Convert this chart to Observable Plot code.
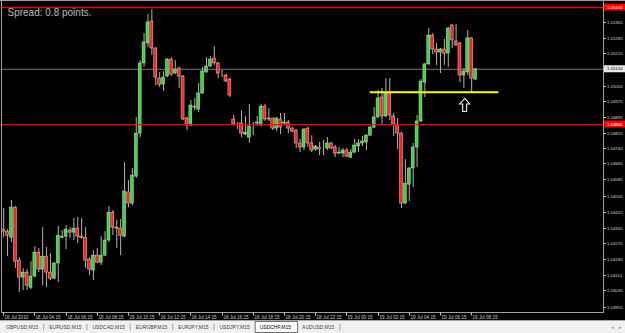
<!DOCTYPE html>
<html>
<head>
<meta charset="utf-8">
<script src="https://cdn.jsdelivr.net/npm/d3@7"></script>
<script src="https://cdn.jsdelivr.net/npm/@observablehq/plot@0.6"></script>
<style>
  html, body { margin:0; padding:0; background:#000; width:625px; height:333px; overflow:hidden; }
  #chart svg, #tabs svg { display:block; }
</style>
</head>
<body>
<div id="chart"></div>
<div id="tabs"></div>
<script>
// ---- Data (USDCHF, M15) ----
const open = [
1.04339,1.04329,1.04299,1.04448,1.04185,1.04101,1.04126,1.04051,1.04106,1.04225,
1.04141,1.04205,1.04126,1.04096,1.04171,1.04299,1.04304,1.04334,1.04324,1.04344,
1.04304,1.04299,1.04190,1.04136,1.04210,1.04175,1.04210,1.04285,1.04423,1.04349,
1.04344,1.04304,1.04523,1.04468,1.04602,1.04815,1.05163,1.05262,1.05371,1.05237,
1.05088,1.05058,1.05098,1.05182,1.05113,1.05138,1.05098,1.04890,1.04855,1.04949,
1.04934,1.05014,1.05118,1.05148,1.05187,1.05163,1.05113,1.05103,1.05083,1.04885,
1.04865,1.04865,1.04810,1.04795,1.04865,1.04865,1.04855,1.04949,1.04890,1.04890,
1.04840,1.04885,1.04865,1.04870,1.04840,1.04830,1.04766,1.04746,1.04840,1.04766,
1.04736,1.04746,1.04741,1.04741,1.04766,1.04746,1.04716,1.04716,1.04731,1.04696,
1.04721,1.04751,1.04766,1.04771,1.04805,1.04845,1.04895,1.04994,1.04900,1.05014,
1.04900,1.04860,1.04815,1.04468,1.04562,1.04642,1.04746,1.04875,1.05068,1.05158,
1.05301,1.05232,1.05217,1.05232,1.05212,1.05351,1.05272,1.05262,1.05103,1.05118,
1.05287,1.05083];
const high = [
1.04443,1.04339,1.04483,1.04453,1.04200,1.04146,1.04141,1.04180,1.04255,1.04245,
1.04349,1.04250,1.04220,1.04175,1.04354,1.04334,1.04359,1.04349,1.04394,1.04399,
1.04394,1.04349,1.04200,1.04235,1.04245,1.04304,1.04329,1.04453,1.04433,1.04384,
1.04389,1.04671,1.04582,1.04642,1.04895,1.05177,1.05311,1.05405,1.05430,1.05242,
1.05118,1.05123,1.05187,1.05192,1.05177,1.05143,1.05103,1.04895,1.04979,1.04989,
1.05063,1.05143,1.05192,1.05197,1.05247,1.05167,1.05128,1.05108,1.05088,1.04905,
1.04870,1.04929,1.04900,1.04959,1.04870,1.04900,1.04959,1.04959,1.04939,1.04890,
1.04895,1.04915,1.04915,1.04880,1.04845,1.04835,1.04786,1.04840,1.04845,1.04805,
1.04756,1.04771,1.04781,1.04795,1.04771,1.04756,1.04746,1.04741,1.04741,1.04736,
1.04786,1.04786,1.04800,1.04810,1.04850,1.04944,1.05029,1.05039,1.05088,1.05088,
1.04915,1.04890,1.04820,1.04686,1.04647,1.04766,1.04905,1.05083,1.05163,1.05336,
1.05311,1.05262,1.05237,1.05282,1.05341,1.05356,1.05356,1.05267,1.05138,1.05326,
1.05291,1.05138];
const low = [
1.04299,1.04205,1.04275,1.04146,1.04027,1.04037,1.04037,1.04042,1.04101,1.04126,
1.04061,1.04051,1.04086,1.04091,1.04076,1.04295,1.04240,1.04295,1.04285,1.04270,
1.04290,1.04146,1.04111,1.04086,1.04171,1.04161,1.04205,1.04275,1.04309,1.04245,
1.04210,1.04299,1.04448,1.04458,1.04592,1.04795,1.05143,1.05242,1.05202,1.05053,
1.05043,1.05024,1.05093,1.05098,1.05108,1.05039,1.04880,1.04830,1.04850,1.04929,
1.04919,1.05009,1.05113,1.05143,1.05153,1.05088,1.05093,1.05068,1.04994,1.04855,
1.04835,1.04795,1.04805,1.04766,1.04805,1.04850,1.04850,1.04875,1.04875,1.04830,
1.04825,1.04810,1.04855,1.04815,1.04820,1.04741,1.04721,1.04731,1.04746,1.04721,
1.04726,1.04706,1.04706,1.04731,1.04736,1.04696,1.04711,1.04696,1.04696,1.04691,
1.04716,1.04721,1.04751,1.04731,1.04800,1.04840,1.04890,1.04855,1.04895,1.04880,
1.04800,1.04736,1.04443,1.04463,1.04478,1.04547,1.04647,1.04870,1.04994,1.05153,
1.05207,1.05153,1.05113,1.05153,1.05143,1.05237,1.05247,1.05068,1.05039,1.05103,
1.05014,1.05078];
const close = [
1.04329,1.04309,1.04448,1.04180,1.04101,1.04126,1.04061,1.04106,1.04225,1.04141,
1.04205,1.04126,1.04096,1.04171,1.04309,1.04304,1.04339,1.04324,1.04344,1.04304,
1.04299,1.04185,1.04141,1.04210,1.04175,1.04210,1.04285,1.04423,1.04349,1.04344,
1.04309,1.04528,1.04468,1.04607,1.04815,1.05163,1.05267,1.05366,1.05237,1.05093,
1.05058,1.05093,1.05182,1.05108,1.05133,1.05098,1.04885,1.04855,1.04954,1.04944,
1.05014,1.05123,1.05148,1.05182,1.05163,1.05113,1.05113,1.05073,1.05004,1.04860,
1.04865,1.04815,1.04820,1.04850,1.04865,1.04870,1.04949,1.04885,1.04885,1.04840,
1.04890,1.04845,1.04870,1.04840,1.04825,1.04766,1.04746,1.04835,1.04766,1.04731,
1.04751,1.04736,1.04741,1.04766,1.04741,1.04716,1.04721,1.04731,1.04701,1.04721,
1.04756,1.04766,1.04776,1.04805,1.04845,1.04895,1.04989,1.04900,1.05014,1.04905,
1.04860,1.04815,1.04468,1.04567,1.04642,1.04746,1.04875,1.05073,1.05158,1.05301,
1.05232,1.05217,1.05232,1.05212,1.05336,1.05277,1.05252,1.05103,1.05123,1.05287,
1.05088,1.05134];

const yTickValues = [1.05365,1.05285,1.05210,1.05050,1.04975,1.04895,1.04815,1.04740,1.04665,
  1.04585,1.04505,1.04425,1.04345,1.04270,1.04190,1.04110,1.04035,1.03955];
const xTickBars = [0,8,16,24,32,40,48,56,64,72,80,88,96,104,112,120];
const xTickLabels = ["16 Jul 2010","16 Jul 04:15","16 Jul 06:15","16 Jul 08:15","16 Jul 10:15",
  "16 Jul 12:15","16 Jul 14:15","16 Jul 16:15","18 Jul 18:15","18 Jul 20:15","18 Jul 22:15",
  "19 Jul 00:15","19 Jul 02:15","19 Jul 04:15","19 Jul 06:15","19 Jul 08:15"];
const redLevels = [1.05440, 1.04860];
const currentPrice = 1.05134;
const yellowLevel = 1.05020, yellowFromBar = 94, yellowToBar = 127;
const arrowBar = 118.2, arrowPrice = 1.04957;
const spreadText = "Spread: 0.8 points.";
const tabNames = ["GBPUSD,M15","EURUSD,M15","USDCAD,M15","EURGBP,M15","EURJPY,M15","USDJPY,M15","USDCHF,M15","AUDUSD,M15"];
const activeTab = "USDCHF,M15";

// ---- Build ----
const candles = open.map((o, i) => ({i, o, h: high[i], l: low[i], c: close[i]}));
const FONT = "Liberation Sans, Arial, sans-serif";

const arrowSymbol = {
  draw(ctx, size) {
    const s = Math.sqrt(size / Math.PI) / 6;
    ctx.moveTo(0, -6.5 * s);
    ctx.lineTo(5 * s, -1 * s);
    ctx.lineTo(2 * s, -1 * s);
    ctx.lineTo(2 * s, 6.5 * s);
    ctx.lineTo(-2 * s, 6.5 * s);
    ctx.lineTo(-2 * s, -1 * s);
    ctx.lineTo(-5 * s, -1 * s);
    ctx.closePath();
  }
};

const chart = Plot.plot({
  width: 625, height: 320,
  marginLeft: 1, marginRight: 22, marginTop: 0, marginBottom: 8,
  style: {background: "#000", color: "#c0c0c0", fontFamily: FONT},
  x: {type: "linear", domain: [-0.556, 153.8], axis: null},
  y: {type: "linear", domain: [1.03928, 1.05475], axis: null},
  marks: [
    Plot.ruleY([currentPrice], {stroke: "#7a7a7a", strokeWidth: 1}),
    Plot.ruleX(candles, {x: "i", y1: "l", y2: "h", stroke: "#b4b4b4", strokeWidth: 1}),
    Plot.rect(candles, {
      x1: d => d.i - 0.38, x2: d => d.i + 0.38, y1: "o", y2: "c",
      fill: d => d.c > d.o ? "#38d838" : d.c < d.o ? "#ff2020" : "#e0e0e0",
      stroke: "#d8d8d8", strokeWidth: 0.5
    }),
    Plot.ruleY(redLevels, {stroke: "#ff0000", strokeWidth: 1.3}),
    Plot.ruleY([{p: yellowLevel, a: yellowFromBar, b: yellowToBar}], {y: "p", x1: "a", x2: "b", stroke: "#ffff00", strokeWidth: 2}),
    Plot.dot([{i: arrowBar, p: arrowPrice}], {x: "i", y: "p", r: 6, symbol: arrowSymbol, fill: "#000", stroke: "#fff6e0", strokeWidth: 1.1}),
    Plot.text([spreadText], {text: d => d, frameAnchor: "top-left", dx: 6, dy: 8, fontSize: 10, fill: "#bcbcbc"}),
    Plot.frame({stroke: "#a0a0a0"})
  ]
});
document.getElementById("chart").appendChild(chart);

// ---- Axes drawn from Plot's own scales ----
const sx = chart.scale("x"), sy = chart.scale("y");
const X = d3.scaleLinear(sx.domain, sx.range), Y = d3.scaleLinear(sy.domain, sy.range);
const svg = d3.select(chart);
const g = svg.append("g").attr("font-family", FONT).attr("text-anchor", "start");

g.append("line").attr("x1", 0).attr("x2", 625).attr("y1", 0.5).attr("y2", 0.5).attr("stroke", "#a0a0a0");

// price axis
yTickValues.forEach(v => {
  const y = Math.round(Y(v)) + 0.5;
  g.append("line").attr("x1", 603.5).attr("x2", 606).attr("y1", y).attr("y2", y).attr("stroke", "#c8c8c8");
  g.append("text").attr("x", 607).attr("y", y).attr("dy", "0.36em").attr("font-size", 4.3)
    .attr("fill", "#d8d8d8").text(v.toFixed(5));
});
redLevels.forEach(v => {
  const y = Y(v);
  g.append("rect").attr("x", 604).attr("y", y - 3.5).attr("width", 21).attr("height", 7).attr("fill", "#ff0000");
  g.append("text").attr("x", 607).attr("y", y).attr("dy", "0.36em").attr("font-size", 4.3)
    .attr("fill", "#ffffff").text(v.toFixed(5));
});
{
  const y = Y(currentPrice);
  g.append("rect").attr("x", 604).attr("y", y - 3.5).attr("width", 21).attr("height", 7).attr("fill", "#e8e8e8");
  g.append("text").attr("x", 607).attr("y", y).attr("dy", "0.36em").attr("font-size", 4.3)
    .attr("fill", "#000").text(currentPrice.toFixed(5));
}

// time axis
xTickBars.forEach((b, k) => {
  const x = Math.round(X(b)) + 0.5;
  g.append("line").attr("x1", x).attr("x2", x).attr("y1", 312.5).attr("y2", 315.5).attr("stroke", "#c8c8c8");
  g.append("text").attr("x", x + 1).attr("y", 318.6).attr("font-size", 4.6)
    .attr("fill", "#d0d0d0").text(xTickLabels[k]);
});

// ---- Symbol tabs ----
const tabs = d3.select("#tabs").append("svg").attr("width", 625).attr("height", 13)
  .attr("font-family", FONT).attr("font-size", 5).attr("text-anchor", "start");
tabs.append("rect").attr("width", 625).attr("height", 13).attr("fill", "#f0f0f0");
tabs.append("line").attr("x1", 0).attr("x2", 625).attr("y1", 0.5).attr("y2", 0.5).attr("stroke", "#a8a8a8");
let tx = 6;
tabNames.forEach((name, i) => {
  const selected = name === activeTab;
  const nextSelected = tabNames[i + 1] === activeTab;
  if (selected) {
    tx += 5;
    const box = tabs.append("rect").attr("x", tx + 0.5).attr("y", 1.5).attr("height", 11)
      .attr("fill", "#ffffff").attr("stroke", "#707070");
    const t = tabs.append("text").attr("x", tx + 5).attr("y", 9.2).attr("fill", "#000").text(name);
    const w = t.node().getComputedTextLength();
    box.attr("width", w + 11);
    tx = tx + w + 11 + 5;
  } else {
    const t = tabs.append("text").attr("x", tx).attr("y", 9.2).attr("fill", "#404040").text(name);
    tx += t.node().getComputedTextLength();
    if (!nextSelected) {
      tabs.append("line").attr("x1", tx + 5.5).attr("x2", tx + 5.5).attr("y1", 4).attr("y2", 10)
        .attr("stroke", "#808080").attr("stroke-width", 0.7);
      tx += 11;
    }
  }
});
tabs.append("text").attr("x", 611).attr("y", 9).attr("fill", "#909090").attr("font-size", 5).text("\u25C2");
tabs.append("text").attr("x", 619).attr("y", 9).attr("fill", "#909090").attr("font-size", 5).text("\u25B8");
</script>
</body>
</html>
